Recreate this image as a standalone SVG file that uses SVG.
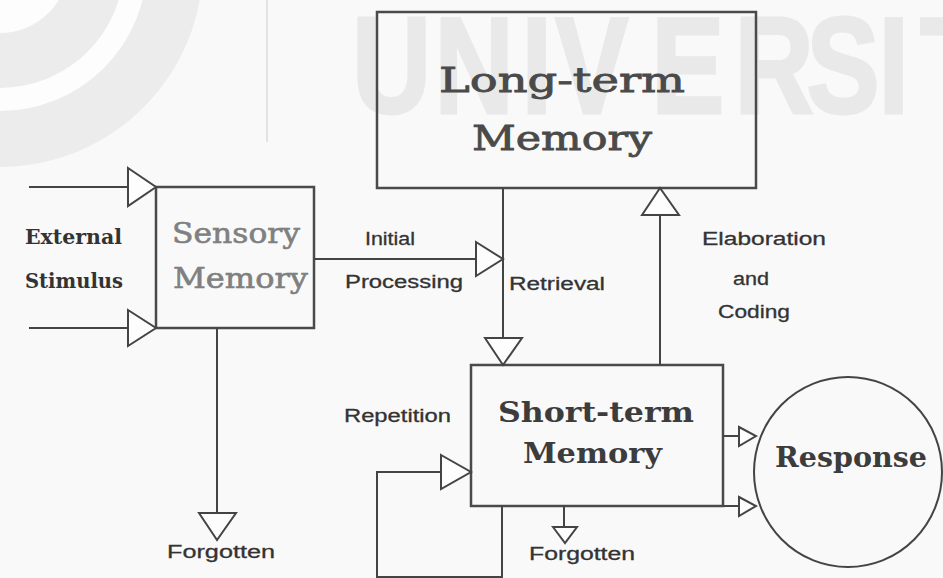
<svg xmlns="http://www.w3.org/2000/svg" width="943" height="578" viewBox="0 0 943 578">
<style>
.box{fill:none;stroke:#4a4a4a;stroke-width:2.5}
.ln{fill:none;stroke:#444;stroke-width:2}
.tri{fill:#fdfdfd;stroke:#444;stroke-width:2;stroke-linejoin:miter}
.lbl{font-family:"Liberation Sans",Arial,sans-serif;font-size:18px;fill:#333;stroke:#333;stroke-width:0.3}
.ser{font-family:"DejaVu Serif","Liberation Serif",serif}
.wm{font-family:"Liberation Sans",Arial,sans-serif;font-weight:bold;font-size:137px;fill:#e9e9e9;stroke:#e9e9e9;stroke-width:3}
</style>
<rect x="0" y="0" width="943" height="578" fill="#f9f9f9"/>
<g id="watermark">
<circle cx="0" cy="-36" r="203" fill="#ececec"/>
<circle cx="0" cy="-36" r="147" fill="#fdfdfd"/>
<circle cx="0" cy="-36" r="124" fill="#ececec"/>
<circle cx="0" cy="-36" r="69" fill="#fdfdfd"/>
<line x1="267" y1="0" x2="267" y2="142" stroke="#d4d4d4" stroke-width="1.2"/>
<text class="wm" transform="scale(0.8 1)" y="113" x="440 543 652 694 814 918 1008 1098 1150">UNIVERSIT</text>
</g>
<g id="ltm">
<rect class="box" x="377" y="12" width="379" height="176"/>
<text class="ser" x="439" y="92" font-size="33" fill="#4a4a4a" stroke="#4a4a4a" stroke-width="0.8" textLength="246" lengthAdjust="spacingAndGlyphs">Long-term</text>
<text class="ser" x="472" y="150" font-size="33" fill="#4a4a4a" stroke="#4a4a4a" stroke-width="0.8" textLength="180" lengthAdjust="spacingAndGlyphs">Memory</text>
</g>
<g id="sensory">
<rect class="box" x="156" y="187" width="158" height="141"/>
<text class="ser" x="172" y="243" font-size="27" fill="#808080" stroke="#808080" stroke-width="0.6" textLength="128" lengthAdjust="spacingAndGlyphs">Sensory</text>
<text class="ser" x="173" y="288" font-size="27" fill="#808080" stroke="#808080" stroke-width="0.6" textLength="135" lengthAdjust="spacingAndGlyphs">Memory</text>
</g>
<g id="stimulus">
<text class="ser" x="25" y="244" font-size="20" font-weight="bold" fill="#333" textLength="97" lengthAdjust="spacingAndGlyphs">External</text>
<text class="ser" x="25" y="288" font-size="20" font-weight="bold" fill="#333" textLength="98" lengthAdjust="spacingAndGlyphs">Stimulus</text>
</g>
<g id="stm">
<rect class="box" x="471" y="365" width="252" height="141"/>
<text class="ser" x="498" y="422" font-size="28" font-weight="bold" fill="#3c3c3c" textLength="196" lengthAdjust="spacingAndGlyphs">Short-term</text>
<text class="ser" x="523" y="463" font-size="28" font-weight="bold" fill="#3c3c3c" textLength="139" lengthAdjust="spacingAndGlyphs">Memory</text>
</g>
<g id="response">
<ellipse cx="848" cy="472" rx="94" ry="95" fill="none" stroke="#444" stroke-width="2"/>
<text class="ser" x="775" y="467" font-size="28" font-weight="bold" fill="#3c3c3c" textLength="152" lengthAdjust="spacingAndGlyphs">Response</text>
</g>
<g id="connectors">
<line class="ln" x1="29" y1="187" x2="128" y2="187"/>
<polygon class="tri" points="128,168 156,187 128,206"/>
<line class="ln" x1="29" y1="328" x2="128" y2="328"/>
<polygon class="tri" points="128,310 156,328 128,346"/>
<line class="ln" x1="314" y1="259" x2="476" y2="259"/>
<polygon class="tri" points="476,242 503,259 476,276"/>
<line class="ln" x1="503" y1="188" x2="503" y2="338"/>
<polygon class="tri" points="485,338 503,365 522,338"/>
<line class="ln" x1="660" y1="365" x2="660" y2="215"/>
<polygon class="tri" points="642,215 660,188 679,215"/>
<line class="ln" x1="217" y1="328" x2="217" y2="513"/>
<polygon class="tri" points="199,513 217,540 236,513"/>
<line class="ln" x1="564" y1="506" x2="564" y2="527"/>
<polygon class="tri" points="553,527 565,543 577,527"/>
<polyline class="ln" points="502,506 502,577 377,577 377,472 441,472"/>
<polygon class="tri" points="441,455 471,472 441,489"/>
<line class="ln" x1="723" y1="436" x2="739" y2="436"/>
<polygon class="tri" points="739,427 756,436 739,446"/>
<line class="ln" x1="723" y1="506" x2="739" y2="506"/>
<polygon class="tri" points="739,497 756,506 739,516"/>
</g>
<g id="labels">
<text class="lbl" x="365" y="245" textLength="50" lengthAdjust="spacingAndGlyphs">Initial</text>
<text class="lbl" x="345" y="288" textLength="118" lengthAdjust="spacingAndGlyphs">Processing</text>
<text class="lbl" x="509" y="290" textLength="96" lengthAdjust="spacingAndGlyphs">Retrieval</text>
<text class="lbl" x="702" y="245" textLength="124" lengthAdjust="spacingAndGlyphs">Elaboration</text>
<text class="lbl" x="733" y="285" textLength="36" lengthAdjust="spacingAndGlyphs">and</text>
<text class="lbl" x="718" y="318" textLength="72" lengthAdjust="spacingAndGlyphs">Coding</text>
<text class="lbl" x="344" y="422" textLength="107" lengthAdjust="spacingAndGlyphs">Repetition</text>
<text class="lbl" x="529" y="560" textLength="106" lengthAdjust="spacingAndGlyphs">Forgotten</text>
<text class="lbl" x="167" y="558" textLength="108" lengthAdjust="spacingAndGlyphs">Forgotten</text>
</g>
</svg>
